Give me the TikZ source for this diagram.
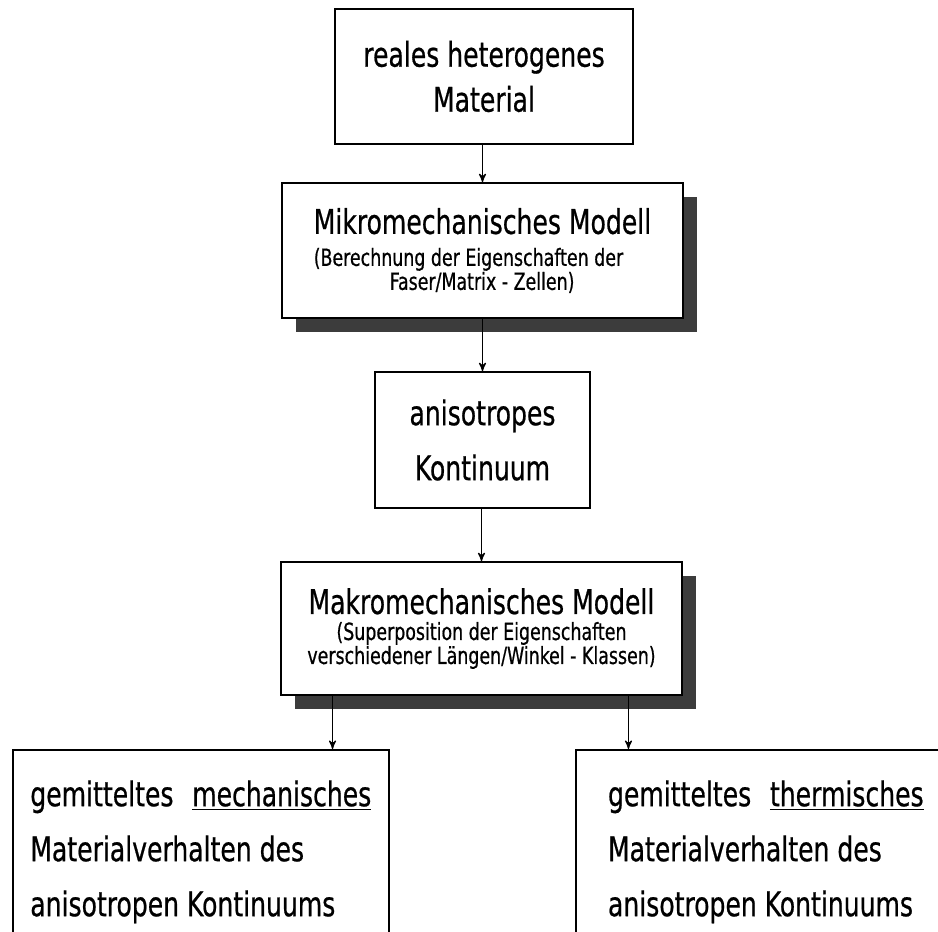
\documentclass[tikz,border=0pt]{standalone}
\usepackage{fontspec}
\setmainfont[FakeStretch=0.82,FakeBold=0.6]{DejaVu Sans Condensed}
\usepackage{tikz}
\usetikzlibrary{arrows}
\usetikzlibrary{calc}
\usetikzlibrary{shadows}
\definecolor{shadowgrey}{RGB}{60,60,60}
\newcommand{\bigtxt}{\fontsize{17}{27.5}\selectfont}
\newcommand{\smalltxt}{\fontsize{11.8}{12.5}\selectfont}
\tikzset{box/.style={
    draw, thick, fill=white, inner sep=0pt,
    #1
  },
  shadowed/.style={
    drop shadow={shadow xshift=7pt, shadow yshift=-7pt,
      fill=shadowgrey, opacity=1}
  },
  conn/.style={
    ->, >=stealth', line width=0.6pt
  }
}

\begin{document}
\begin{tikzpicture}[x=0.5pt,y=-0.5pt]
      \path[use as bounding box,clip] (0,0) rectangle (938,932);
      \node[box={minimum width=149pt,minimum height=67.5pt,align=center,font=\bigtxt}]
        (real) at (484,76.5) {reales heterogenes\\[-5pt]Material};
      \node[box={minimum width=200.5pt,minimum height=67.5pt,align=left},shadowed]
        (mikro) at (482.5,250.5) {{\bigtxt Mikromechanisches Modell}\\[4pt]
          {\smalltxt (Berechnung der Eigenschaften der}\\
          {\smalltxt\hspace*{38pt}Faser/Matrix - Zellen)}};
      \node[box={minimum width=107.5pt,minimum height=68pt,align=center,font=\bigtxt}]
        (aniso) at (482.5,440) {anisotropes\\Kontinuum};
      \node[box={minimum width=200.5pt,minimum height=66.5pt,align=center},shadowed]
        (makro) at (481.5,628.5) {{\bigtxt Makromechanisches Modell}\\[1pt]
          {\smalltxt (Superposition der Eigenschaften}\\
          {\smalltxt verschiedener Längen/Winkel - Klassen)}};
      \node[box={minimum width=188pt,minimum height=102pt,align=left,font=\bigtxt,
          anchor=north west}]
        (mech) at (12,749) {gemitteltes\hspace{0.55em}\underline{mechanisches}\\
          Materialverhalten des\\anisotropen Kontinuums};
      \node[box={minimum width=190pt,minimum height=102pt,align=left,font=\bigtxt,
          anchor=north west}]
        (therm) at (575,749) {gemitteltes\hspace{0.55em}\underline{thermisches}\\
          Materialverhalten des\\anisotropen Kontinuums};
      \coordinate (makrol) at ($(makro.south west)!0.13!(makro.south east)$);
      \coordinate (makror) at ($(makro.south west)!0.865!(makro.south east)$);
      \draw[conn] (mikro.north |- real.south) -- (mikro.north);
      \draw[conn] (mikro.south) -- (aniso.north);
      \draw[conn] (makro.north |- aniso.south) -- (makro.north);
      \draw[conn] (makrol) -- (makrol |- mech.north);
      \draw[conn] (makror) -- (makror |- therm.north);
\end{tikzpicture}
\end{document}
